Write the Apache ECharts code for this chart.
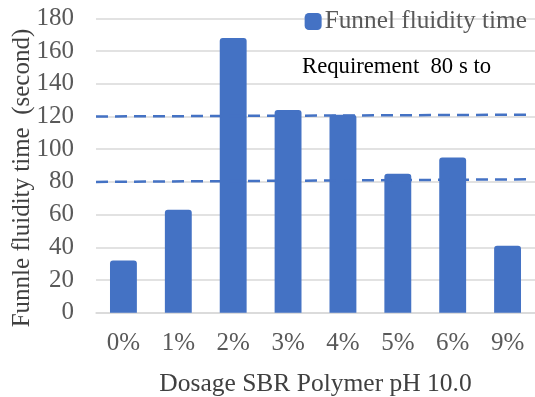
<!DOCTYPE html>
<html>
<head>
<meta charset="utf-8">
<script src="https://cdn.jsdelivr.net/npm/echarts@6/dist/echarts.min.js"></script>
<style>html,body{margin:0;padding:0;background:#fff}#c{width:535px;height:397px}</style>
</head>
<body>
<div id="c"></div>
<script>
const categories = ['0%', '1%', '2%', '3%', '4%', '5%', '6%', '9%'];
const fluidityTime = [32, 63, 168, 124, 121, 85, 95, 41];
const upperLimitLine = [120, 121.1];
const lowerLimitLine = [80, 81.6];
const limitLineX = [0, 1];
const yTicks = [0, 20, 40, 60, 80, 100, 120, 140, 160, 180];
const yAxisTitle = 'Funnle fluidity time  (second)';

const FONT = '"Liberation Serif", "Times New Roman", serif';
const chart = echarts.init(document.getElementById('c'), null, {renderer: 'canvas'});
chart.setOption({
  animation: false,
  legend: {
    data: [{name: 'Funnel fluidity time', icon: 'roundRect'}],
    right: 3, top: 4,
    itemWidth: 17, itemHeight: 17, itemGap: 4,
    textStyle: {fontFamily: FONT, fontSize: 25.3, color: '#595959', padding: [0,0,0,-2]}
  },
  graphic: [{
    type: 'text', left: 302, top: 56,
    style: {text: 'Requirement  80 s to', font: '22.7px ' + FONT, fill: '#000'}
  }, {
    type: 'text', x: 22, y: 178, rotation: Math.PI / 2,
    style: {text: yAxisTitle, font: '25px ' + FONT, fill: '#404040', align: 'center', verticalAlign: 'middle'}
  }],
  grid: {left: 96, right: 0, top: 18.4, bottom: 84.3, containLabel: false, outerBoundsMode: 'none'},
  xAxis: [{
    type: 'category', data: categories,
    name: 'Dosage SBR Polymer pH 10.0', nameLocation: 'middle', nameGap: 59,
    nameTextStyle: {fontFamily: FONT, fontSize: 25.5, color: '#404040'},
    axisLine: {lineStyle: {color: '#d9d9d9', width: 1.5}},
    axisTick: {show: false},
    axisLabel: {fontFamily: FONT, fontSize: 25, color: '#595959', margin: 18}
  }, {
    type: 'value', min: 0, max: 1.013, show: false
  }],
  yAxis: {
    type: 'value', min: yTicks[0], max: yTicks[yTicks.length-1], interval: 20,
    axisLine: {show: false}, axisTick: {show: false},
    axisLabel: {fontFamily: FONT, fontSize: 25, color: '#595959', margin: 22},
    splitLine: {lineStyle: {color: '#d9d9d9', width: 1.5}}
  },
  series: [{
    name: 'Funnel fluidity time', type: 'bar', data: fluidityTime,
    barWidth: '49%',
    itemStyle: {color: '#4472C4', borderRadius: [3,3,0,0]}
  }, {
    name: 'upper', type: 'line', xAxisIndex: 1,
    data: limitLineX.map((x,i)=>[x, upperLimitLine[i]]),
    symbol: 'none', lineStyle: {color: '#4472C4', width: 2.5, type: [12, 7]}
  }, {
    name: 'lower', type: 'line', xAxisIndex: 1,
    data: limitLineX.map((x,i)=>[x, lowerLimitLine[i]]),
    symbol: 'none', lineStyle: {color: '#4472C4', width: 2.5, type: [12, 7]}
  }]
});
</script>
</body>
</html>
